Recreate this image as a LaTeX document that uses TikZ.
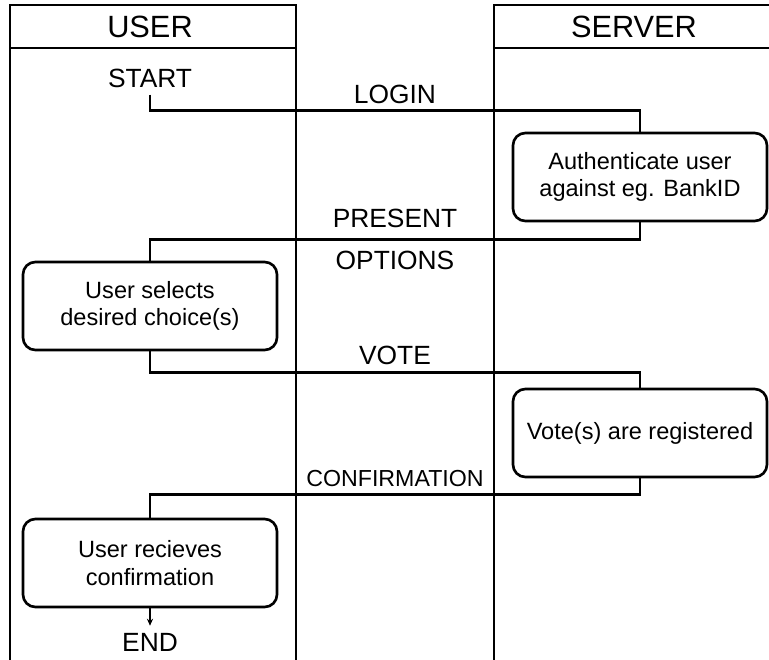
\documentclass[tikz,border=0pt]{standalone}
\usepackage{fontspec}
\setmainfont{Liberation Sans}
\usetikzlibrary{arrows.meta}
\begin{document}
\begin{tikzpicture}[x=0.02cm,y=-0.02cm,line width=1.5pt,
  head/.style={font=\fontsize{17.5}{20}\selectfont},
  lbl/.style={font=\fontsize{15}{18}\selectfont},
  lblsmall/.style={font=\fontsize{13.2}{16}\selectfont},
  task/.style={draw,rounded corners=7pt,align=center,
    minimum width=5.08cm,minimum height=1.76cm,
    font=\fontsize{13.4}{15.5}\selectfont}]
  \useasboundingbox (0,0) rectangle (769,660);
  % swimlanes
  \draw (10,662) -- (10,5) -- (296,5) -- (296,662);
  \draw (10,48) -- (296,48);
  \draw (494,662) -- (494,5) -- (771,5);
  \draw (494,48) -- (771,48);
  \node[head] (user) at (150,27) {USER};
  \node[head] (server) at (634,27) {SERVER};
  % steps
  \node[lbl] (start) at (150,78) {START};
  \node[task] (auth) at (640,177) {Authenticate user\\against eg. BankID};
  \node[task] (choose) at (150,306) {User selects\\desired choice(s)};
  \node[task] (reg) at (640,433) {Vote(s) are registered};
  \node[task] (recv) at (150,563) {User recieves\\confirmation};
  \node[lbl] (stop) at (150,642) {END};
  % messages
  \draw (start.south) -- ++(0,16) -| node[lbl,pos=0.25,above] {LOGIN} (auth.north);
  \draw (auth.south) -- ++(0,17) -| node[lbl,pos=0.25,above=2.3pt] {PRESENT}
    node[lbl,pos=0.25,below=2.8pt] {OPTIONS} (choose.north);
  \draw (choose.south) -- ++(0,21) -| node[lbl,pos=0.25,above] {VOTE} (reg.north);
  \draw (reg.south) -- ++(0,16) -| node[lblsmall,pos=0.25,above] {CONFIRMATION} (recv.north);
  \draw[-{Stealth[length=4pt,width=3.5pt]}] (recv.south) -- (stop.north);
\end{tikzpicture}
\end{document}
